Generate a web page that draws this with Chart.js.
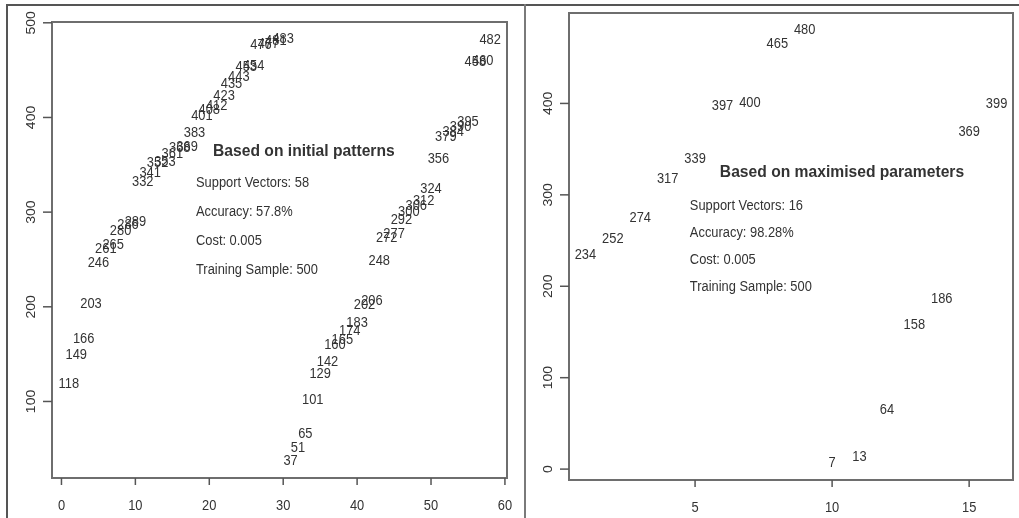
<!DOCTYPE html>
<html>
<head>
<meta charset="utf-8">
<script src="https://cdn.jsdelivr.net/npm/chart.js@4.4.1/dist/chart.umd.min.js"></script>
<style>
  html, body { margin: 0; padding: 0; background: #fff; }
  body { width: 1019px; height: 518px; position: relative; overflow: hidden; }
  canvas { position: absolute; top: 0; }
  #initial { left: 0; }
  #maximised { left: 520px; }
  .rule { position: absolute; background: #555; }
</style>
</head>
<body>
<canvas id="initial" width="520" height="518"></canvas>
<canvas id="maximised" width="499" height="518"></canvas>
<div class="rule" style="left:7px;top:4px;width:1012px;height:2px"></div>
<div class="rule" style="left:6px;top:4px;width:2px;height:514px"></div>
<div class="rule" style="left:524px;top:4px;width:2px;height:514px;background:#7a7a7a"></div>
<script>
// support vector indices, in the order the model lists them (class 1 then class 2)
const INITIAL_SV = [118, 149, 166, 203, 246, 261, 265, 280, 286, 289,
    332, 341, 352, 353, 361, 368, 369, 383, 401, 408,
    412, 423, 435, 443, 453, 454, 476, 477, 481, 483,
    37, 51, 65, 101, 129, 142, 160, 165, 174, 183,
    202, 206, 248, 272, 277, 292, 300, 306, 312, 324,
    356, 379, 384, 390, 395, 458, 460, 482];
const MAXIMISED_SV = [234, 252, 274, 317, 339, 397, 400, 465, 480,
    7, 13, 64, 158, 186, 369, 399];

const INITIAL_X_TICKS = [0, 10, 20, 30, 40, 50, 60];
const INITIAL_Y_TICKS = [100, 200, 300, 400, 500];
const MAXIMISED_X_TICKS = [5, 10, 15];
const MAXIMISED_Y_TICKS = [0, 100, 200, 300, 400];

const INITIAL_TITLE = 'Based on initial patterns';
const INITIAL_INFO = ['Support Vectors: 58', 'Accuracy: 57.8%', 'Cost: 0.005', 'Training Sample: 500'];
const MAXIMISED_TITLE = 'Based on maximised parameters';
const MAXIMISED_INFO = ['Support Vectors: 16', 'Accuracy: 98.28%', 'Cost: 0.005', 'Training Sample: 500'];

const FONT = '"Liberation Sans", Arial, sans-serif';
const INK = '#333';
const SQUEEZE = 0.92;   // source picture is slightly narrowed

// R pads the data range by 4% on each side
function rRange(values){
    var lo = Math.min.apply(null, values);
    var hi = Math.max.apply(null, values);
    var pad = (hi - lo) * 0.04;
    return [lo - pad, hi + pad];
}

function drawText(ctx, str, x, y, font, align, vertical){
    ctx.save();
    ctx.translate(x, y);
    if(vertical){
        ctx.rotate(-Math.PI / 2);
        ctx.scale(1, SQUEEZE);
    } else {
        ctx.scale(SQUEEZE, 1);
    }
    ctx.font = font;
    ctx.fillStyle = INK;
    ctx.textAlign = align;
    ctx.textBaseline = 'middle';
    ctx.fillText(str, 0, 0);
    ctx.restore();
}

function line(ctx, x1, y1, x2, y2){
    ctx.beginPath();
    ctx.moveTo(x1, y1);
    ctx.lineTo(x2, y2);
    ctx.stroke();
}

const svPanel = {
    id: 'svPanel',
    afterDraw(chart, args, opts){
        const ctx = chart.ctx;
        const a = chart.chartArea;
        const xs = chart.scales.x, ys = chart.scales.y;

        ctx.save();
        ctx.strokeStyle = '#6e6e6e';
        ctx.lineWidth = 2;
        ctx.strokeRect(a.left, a.top, a.right - a.left, a.bottom - a.top);

        ctx.strokeStyle = '#555';
        ctx.lineWidth = 1.5;
        opts.xTicks.forEach(v => {
            const px = xs.getPixelForValue(v);
            line(ctx, px, a.bottom, px, a.bottom + 7);
            drawText(ctx, String(v), px, a.bottom + 28, '14px ' + FONT, 'center');
        });
        opts.yTicks.forEach(v => {
            const py = ys.getPixelForValue(v);
            line(ctx, a.left - 9, py, a.left, py);
            drawText(ctx, String(v), a.left - 21, py, '14px ' + FONT, 'center', true);
        });

        // each point is drawn as its own index number, as R's text() does
        const points = chart.data.datasets[0].data;
        chart.getDatasetMeta(0).data.forEach((el, i) => {
            drawText(ctx, String(points[i].y), el.x, el.y, '14px ' + FONT, 'center');
        });

        drawText(ctx, opts.title, xs.getPixelForValue(opts.titleAt[0]), ys.getPixelForValue(opts.titleAt[1]),
            'bold 17px ' + FONT, 'center');
        opts.info.forEach((t, i) => {
            drawText(ctx, t, xs.getPixelForValue(opts.infoAt[0]), ys.getPixelForValue(opts.infoAt[1] - i * opts.infoStep),
                '14px ' + FONT, 'left');
        });
        ctx.restore();
    }
};

function makePanel(canvasId, values, xTicks, yTicks, padding, panel){
    const xr = rRange([1, values.length]);
    const yr = rRange(values);
    return new Chart(document.getElementById(canvasId), {
        type: 'scatter',
        data: {
            datasets: [{
                data: values.map((v, i) => ({x: i + 1, y: v})),
                pointRadius: 0,
                pointHoverRadius: 0,
                showLine: false
            }]
        },
        options: {
            responsive: false,
            animation: false,
            devicePixelRatio: 1,
            layout: {padding: padding},
            scales: {
                x: {type: 'linear', display: false, min: xr[0], max: xr[1], bounds: 'data'},
                y: {type: 'linear', display: false, min: yr[0], max: yr[1], bounds: 'data'}
            },
            plugins: {
                legend: {display: false},
                tooltip: {enabled: false},
                svPanel: Object.assign({xTicks: xTicks, yTicks: yTicks}, panel)
            }
        },
        plugins: [svPanel]
    });
}

makePanel('initial', INITIAL_SV, INITIAL_X_TICKS, INITIAL_Y_TICKS,
    {left: 52, top: 22, right: 13, bottom: 40},
    {title: INITIAL_TITLE, titleAt: [32.8, 364.6], info: INITIAL_INFO, infoAt: [18.2, 330.8], infoStep: 30.6});

makePanel('maximised', MAXIMISED_SV, MAXIMISED_X_TICKS, MAXIMISED_Y_TICKS,
    {left: 49, top: 13, right: 6, bottom: 38},
    {title: MAXIMISED_TITLE, titleAt: [10.36, 325], info: MAXIMISED_INFO, infoAt: [4.81, 287.8], infoStep: 29.5});
</script>
</body>
</html>
